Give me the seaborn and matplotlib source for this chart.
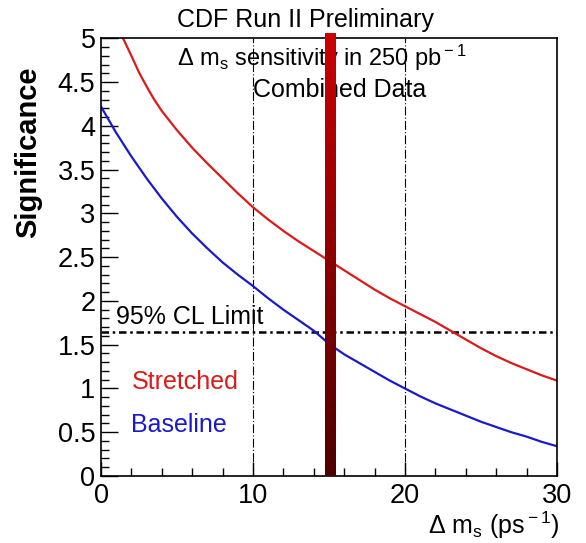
import numpy as np
import pandas as pd
import matplotlib
matplotlib.use("Agg")
import matplotlib.pyplot as plt
from matplotlib.colors import LinearSegmentedColormap
from matplotlib.ticker import MultipleLocator
import seaborn as sns

# curves
dms_stretched = [1.45, 2, 2.5, 3, 3.5, 4, 5, 6, 7, 8, 9, 10, 11, 12, 13, 14, 15, 16,
                 17, 18, 19, 20, 21, 22, 23, 24, 25, 26, 27, 28, 29, 30]
sig_stretched = [5.0, 4.8, 4.61, 4.45, 4.3, 4.17, 3.95, 3.75, 3.57, 3.4, 3.23, 3.07,
                 2.93, 2.8, 2.68, 2.57, 2.46, 2.35, 2.24, 2.13, 2.03, 1.94, 1.85,
                 1.76, 1.66, 1.56, 1.46, 1.37, 1.29, 1.22, 1.15, 1.09]
dms_baseline = [0, 1, 2, 3, 4, 5, 6, 7, 8, 9, 10, 11, 12, 13, 14, 15, 16, 17, 18, 19,
                20, 21, 22, 23, 24, 25, 26, 27, 28, 29, 30]
sig_baseline = [4.22, 3.92, 3.65, 3.4, 3.17, 2.96, 2.77, 2.6, 2.44, 2.3, 2.17, 2.03,
                1.9, 1.78, 1.66, 1.51, 1.39, 1.29, 1.19, 1.09, 1.0, 0.91, 0.83, 0.76,
                0.69, 0.62, 0.56, 0.5, 0.45, 0.39, 0.34]

cl_limit = 1.645
grid_x = [10, 20]
band_lo, band_hi = 14.76, 15.46

df = pd.concat([
    pd.DataFrame({"dms": dms_stretched, "sig": sig_stretched, "set": "Stretched"}),
    pd.DataFrame({"dms": dms_baseline, "sig": sig_baseline, "set": "Baseline"}),
])

sns.set_style("ticks")
plt.rcParams["font.family"] = ["Liberation Sans", "DejaVu Sans"]
plt.rcParams["mathtext.fontset"] = "custom"
plt.rcParams["mathtext.rm"] = "Liberation Sans"
plt.rcParams["mathtext.it"] = "Liberation Sans"
for k in ["text.color", "axes.labelcolor", "xtick.color", "ytick.color", "axes.edgecolor"]:
    plt.rcParams[k] = "black"

fig = plt.figure(figsize=(5.86, 5.43), dpi=100)
ax = fig.add_axes([0.1724, 0.1234, 0.778, 0.806])

sns.lineplot(data=df, x="dms", y="sig", hue="set",
             palette={"Stretched": "#dd1a1a", "Baseline": "#1a1acc"},
             lw=1.6, legend=False, ax=ax, sort=False)

for gx in grid_x:
    ax.axvline(gx, color="black", lw=0.8, ls=(0, (8, 2, 1, 2)), zorder=1)
ax.axhline(cl_limit, color="black", lw=1.8, ls=(0, (3, 1.5, 1, 1.5)), zorder=1)

# gradient band
cmap = LinearSegmentedColormap.from_list("band", ["#4e0000", "#cc0000"])
grad = np.linspace(0, 1, 256).reshape(-1, 1)
ax.imshow(grad, cmap=cmap, origin="lower", aspect="auto",
          extent=[band_lo, band_hi, 0, 5.06], clip_on=False, zorder=5)

ax.set_xlim(0, 30)
ax.set_ylim(0, 5)
ax.xaxis.set_major_locator(MultipleLocator(10))
ax.xaxis.set_minor_locator(MultipleLocator(2))
ax.yaxis.set_minor_locator(MultipleLocator(0.1))
ax.set_yticks([0, 0.5, 1, 1.5, 2, 2.5, 3, 3.5, 4, 4.5, 5])
ax.set_yticklabels(["0", "0.5", "1", "1.5", "2", "2.5", "3", "3.5", "4", "4.5", "5"])
ax.tick_params(axis="both", which="major", direction="in", length=12, width=1,
               labelsize=19.5, pad=4)
ax.tick_params(axis="both", which="minor", direction="in", length=6, width=1)
ax.tick_params(axis="x", which="major", length=10, pad=5)
for s in ax.spines.values():
    s.set_linewidth(1.2)

ax.set_xlabel("")
ax.set_ylabel("")
fig.text(0.048, 0.72, "Significance", rotation=90, fontsize=21, fontweight="bold",
         ha="center", va="center")
fig.text(0.955, 0.004, r"$\Delta$ m$_{\rm s}$ (ps$^{\rm -1}$)", fontsize=18,
         ha="right", va="bottom")

fig.text(0.522, 0.963, "CDF Run II Preliminary", fontsize=18, ha="center", va="center")
ax.text(14.5, 4.78, r"$\Delta$ m$_{\rm s}$ sensitivity in 250 pb$^{\rm -1}$", fontsize=17,
        ha="center", va="center")
ax.text(15.7, 4.41, "Combined Data", fontsize=18, ha="center", va="center")
ax.text(1.0, 1.68, "95% CL Limit", fontsize=18, ha="left", va="bottom")
ax.text(2.0, 1.07, "Stretched", fontsize=18, color="#dd1a1a", ha="left", va="center")
ax.text(2.0, 0.58, "Baseline", fontsize=18, color="#1a1acc", ha="left", va="center")

fig.savefig("out.png", dpi=100, facecolor="white")
